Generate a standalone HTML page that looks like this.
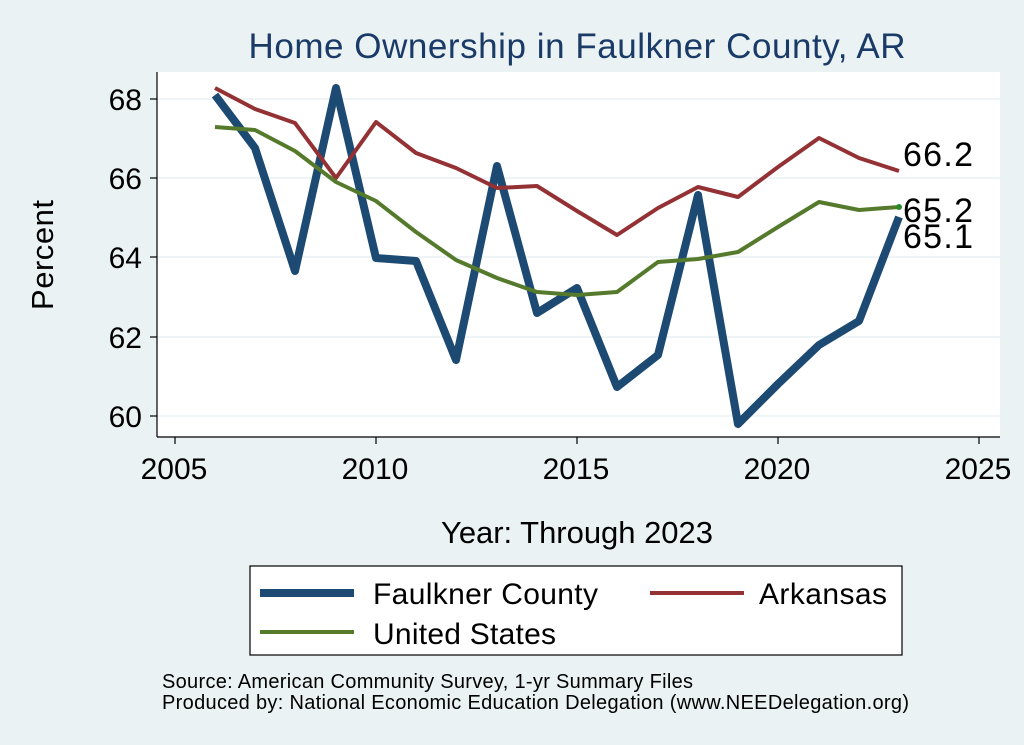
<!DOCTYPE html>
<html><head><meta charset="utf-8"><style>
body{margin:0;background:#eaf2f3;}
svg{display:block;font-family:"Liberation Sans",Arial,sans-serif;}
</style></head><body>
<svg width="1024" height="745" viewBox="0 0 1024 745">
<rect width="1024" height="745" fill="#eaf2f3"/>
<rect x="157" y="72" width="843" height="365" fill="#fff"/>
<g stroke="#eaf2f3" stroke-width="1.5">
<line x1="157" x2="1000" y1="99" y2="99"/><line x1="157" x2="1000" y1="178" y2="178"/>
<line x1="157" x2="1000" y1="257" y2="257"/><line x1="157" x2="1000" y1="337" y2="337"/>
<line x1="157" x2="1000" y1="416" y2="416"/>
</g>
<g stroke="#000" stroke-width="1.2">
<line x1="157" y1="72" x2="157" y2="437"/><line x1="157" y1="437" x2="1000" y2="437"/>
<line x1="150" x2="157" y1="99" y2="99"/><line x1="150" x2="157" y1="178" y2="178"/>
<line x1="150" x2="157" y1="257" y2="257"/><line x1="150" x2="157" y1="337" y2="337"/>
<line x1="150" x2="157" y1="416" y2="416"/>
<line x1="175" x2="175" y1="437" y2="444"/><line x1="376" x2="376" y1="437" y2="444"/>
<line x1="577" x2="577" y1="437" y2="444"/><line x1="778" x2="778" y1="437" y2="444"/>
<line x1="979" x2="979" y1="437" y2="444"/>
</g>
<g font-size="30" fill="#000" text-anchor="end">
<text x="142" y="110">68</text><text x="142" y="189">66</text><text x="142" y="268">64</text>
<text x="142" y="348">62</text><text x="142" y="427">60</text>
</g>
<g font-size="30" fill="#000" text-anchor="middle">
<text x="174" y="479">2005</text><text x="375" y="479">2010</text><text x="576" y="479">2015</text>
<text x="777" y="479">2020</text><text x="978" y="479">2025</text>
<text x="577" y="543" font-size="31" textLength="272">Year: Through 2023</text>
</g>
<text x="53" y="255" font-size="31" text-anchor="middle" textLength="110" transform="rotate(-90 53 255)">Percent</text>
<text x="577" y="58" font-size="35" fill="#1a3a68" text-anchor="middle" textLength="657">Home Ownership in Faulkner County, AR</text>
<g fill="none" stroke-linejoin="round">
<polyline stroke="#1c4a72" stroke-width="8" points="215,95 255,148 295,271 336,88 376,258 416,261 456,360 497,166 537,313 577,288 617,387 658,355 698,195 738,424 778,384 819,345 859,321 899,217"/>
<polyline stroke="#943135" stroke-width="4" points="215,88 255,109 295,123 336,178 376,122 416,153 456,168 497,188 537,186 577,211 617,235 658,208 698,187 738,197 778,167 819,138 859,158 899,171"/>
<polyline stroke="#557a2c" stroke-width="4" points="215,127 255,130 295,151 336,182 376,201 416,232 456,260 497,278 537,292 577,295 617,292 658,262 698,259 738,252 778,227 819,202 859,210 899,207"/>
</g>
<circle cx="899" cy="207" r="3" fill="#2a8a2a"/>
<g font-size="34">
<text x="903" y="166" textLength="70">66.2</text><text x="903" y="222" textLength="70">65.2</text><text x="903" y="248" textLength="70">65.1</text>
</g>
<rect x="250" y="566" width="652" height="89" fill="#fff" stroke="#000" stroke-width="1.2"/>
<line x1="260" x2="354" y1="593" y2="593" stroke="#1c4a72" stroke-width="8"/>
<line x1="650" x2="744" y1="593" y2="593" stroke="#943135" stroke-width="4"/>
<line x1="260" x2="354" y1="632" y2="632" stroke="#557a2c" stroke-width="4"/>
<g font-size="30">
<text x="373" y="604" textLength="225">Faulkner County</text><text x="759" y="604" textLength="128">Arkansas</text>
<text x="373" y="644" textLength="183">United States</text>
</g>
<g font-size="20">
<text x="162" y="688" textLength="531">Source: American Community Survey, 1-yr Summary Files</text>
<text x="162" y="709" textLength="747">Produced by: National Economic Education Delegation (www.NEEDelegation.org)</text>
</g>
</svg>
</body></html>
